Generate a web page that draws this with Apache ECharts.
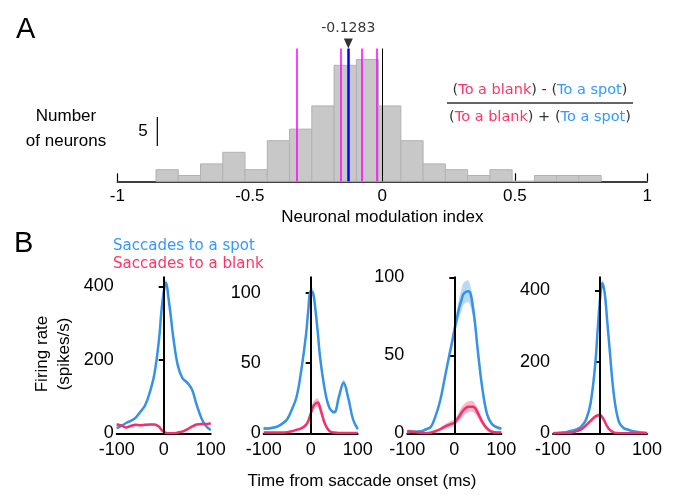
<!DOCTYPE html>
<html>
<head>
<meta charset="utf-8">
<script src="https://cdn.jsdelivr.net/npm/echarts@6/dist/echarts.min.js"></script>
<style>
  html, body { margin: 0; padding: 0; background: #fff; }
  #main { width: 674px; height: 495px; }
</style>
</head>
<body>
<div id="main"></div>
<script>
// ---- panel A: histogram of modulation index ----
var binEdges = [-0.854, -0.770, -0.686, -0.602, -0.518, -0.434, -0.350, -0.266, -0.182, -0.098,
                -0.014, 0.070, 0.154, 0.238, 0.322, 0.406, 0.490, 0.574, 0.658, 0.742, 0.826];
var binCounts = [2, 1, 3, 5, 2, 7, 9, 13, 20, 21, 13, 7, 3, 2, 1, 2, 0, 1, 1, 1];
var magentaLines = [-0.3245, -0.1585, -0.0777, -0.0211];
var medianValue = -0.1283;
var histTicks = [-1, -0.5, 0, 0.5, 1];

// ---- panel B: firing rate traces (spikes/s) ----
var times = [-100, -90, -80, -70, -60, -50, -40, -30, -20, -10, -5, 0, 5, 10, 15, 20, 30, 40, 50, 60, 70, 80, 90, 100];

var p1Spot     = [14, 20, 28, 34, 42, 58, 75, 110, 160, 255, 330, 385, 410, 370, 320, 265, 185, 150, 138, 120, 78, 42, 20, 9];
var p1SpotSem  = [3, 3, 3, 3, 3, 3, 3, 4, 4, 5, 6, 8, 10, 8, 6, 5, 4, 4, 4, 4, 3, 3, 3, 3];
var p1Blank    = [24, 21, 16, 20, 23, 22, 23, 24, 24, 18, 10, 4, 1, 0, 0, 0, 2, 5, 11, 18, 24, 25, 25, 27];
var p1BlankSem = [3, 3, 3, 3, 3, 3, 3, 3, 3, 3, 3, 2, 2, 2, 2, 2, 2, 2, 3, 3, 3, 3, 3, 3];

var p2Spot     = [3.5, 3.5, 4, 5, 7, 10, 17, 26, 45, 70, 88, 101, 100, 88, 72, 54, 31, 18, 15, 26, 36, 25, 10, 3];
var p2SpotSem  = [1, 1, 1, 1, 1, 1, 1, 1, 1.5, 2, 2, 3, 3, 2.5, 2, 1.5, 1, 1, 1, 1.5, 2.5, 2, 1, 1];
var p2Blank    = [0.5, 0.5, 0.5, 0.5, 0.5, 0.8, 1.5, 2.5, 3.5, 6, 9, 14, 19, 21, 22, 18, 7, 1.5, 0.5, 0.3, 0.3, 0.3, 0.3, 0.3];
var p2BlankSem = [0.5, 0.5, 0.5, 0.5, 0.5, 0.5, 0.5, 0.5, 1, 1.5, 2, 2.5, 3, 3, 3, 2.5, 1.5, 0.5, 0.5, 0.5, 0.5, 0.5, 0.5, 0.5];

var p3Spot     = [0.5, 1, 1, 1.3, 2.6, 4, 11, 21, 36, 51, 58, 66, 73, 80, 85, 89.5, 91, 80, 53, 28, 12, 6, 4, 3];
var p3SpotSem  = [1, 1, 1, 1, 1, 1, 1, 1.5, 2, 2.5, 3, 4, 5, 6, 7, 7, 7, 6, 4, 2.5, 1.5, 1, 1, 1];
var p3Blank    = [1.3, 1, 0.6, 0.2, 0, 0.4, 1.3, 2.6, 4.3, 5.6, 6.2, 6.8, 8.5, 10.7, 13, 15, 17, 17, 13, 7, 3, 1, 0.5, 0.5];
var p3BlankSem = [1, 1, 1, 1, 1, 1, 1, 1, 1.5, 2, 2, 2, 2.5, 3, 3.5, 3.5, 3.5, 3.5, 3, 2, 1.5, 1, 1, 1];

var p4Spot     = [0, 1, 2, 4, 7, 11, 19, 37, 84, 196, 290, 374, 420, 393, 320, 243, 103, 33, 15, 10, 6, 4, 2, 1];
var p4SpotSem  = [3, 3, 3, 3, 3, 3, 3, 4, 5, 6, 8, 10, 10, 8, 6, 5, 4, 3, 3, 3, 3, 3, 3, 3];
var p4Blank    = [0, 0, 0.5, 1, 2, 6, 11, 22, 35, 47, 50, 51, 45, 33, 20, 11, 2, 0.5, 0, 0, 0, 0, 0, 0];
var p4BlankSem = [2, 2, 2, 2, 2, 2, 2, 3, 3, 4, 5, 5, 5, 4, 3, 2, 2, 2, 2, 2, 2, 2, 2, 2];

var panels = [
  { spot: p1Spot, spotSem: p1SpotSem, blank: p1Blank, blankSem: p1BlankSem, yMax: 425, yStep: 200, left: 116.7 },
  { spot: p2Spot, spotSem: p2SpotSem, blank: p2Blank, blankSem: p2BlankSem, yMax: 111, yStep: 50, left: 263.7 },
  { spot: p3Spot, spotSem: p3SpotSem, blank: p3Blank, blankSem: p3BlankSem, yMax: 100, yStep: 50, left: 407.3 },
  { spot: p4Spot, spotSem: p4SpotSem, blank: p4Blank, blankSem: p4BlankSem, yMax: 437, yStep: 200, left: 553 }
];

var SPOT = '#3592e6', SPOT_BAND = 'rgba(53,146,230,0.35)';
var BLANK = '#f4306b', BLANK_BAND = 'rgba(244,48,107,0.35)';
var SANS = 'Liberation Sans';
var VERA = 'DejaVu Sans';

var chart = echarts.init(document.getElementById('main'));

var grids = [{ left: 117.3, width: 530, top: 36.3, height: 145 }];
var xAxes = [{
  gridIndex: 0, type: 'value', min: -1, max: 1, interval: 0.5,
  axisLine: { lineStyle: { color: '#000', width: 1.5 } },
  axisTick: { inside: true, length: 8, lineStyle: { color: '#000', width: 1.2 } },
  axisLabel: { color: '#000', fontSize: 17, fontFamily: SANS, margin: 7,
    formatter: function (v) { return histTicks.indexOf(v) >= 0 ? String(v) : ''; } },
  splitLine: { show: false },
  name: 'Neuronal modulation index', nameLocation: 'middle', nameGap: 28,
  nameTextStyle: { color: '#000', fontSize: 17, fontFamily: SANS }
}];
var yAxes = [{ gridIndex: 0, type: 'value', min: 0, max: 25, show: false }];

var histData = binCounts.map(function (c, i) { return [binEdges[i], binEdges[i + 1], c]; });
var lineTop = 22.9;
var vLines = magentaLines.map(function (x) {
  return [{ coord: [x, 0], lineStyle: { color: '#ff00ff', width: 1.5, type: 'solid' } }, { coord: [x, lineTop] }];
});
vLines.push([{ coord: [medianValue, 0], lineStyle: { color: '#0000ff', width: 2.5, type: 'solid' } }, { coord: [medianValue, lineTop] }]);
vLines.push([{ coord: [0, 0], lineStyle: { color: '#000', width: 1, type: 'solid' } }, { coord: [0, lineTop] }]);

var series = [
  {
    type: 'custom', xAxisIndex: 0, yAxisIndex: 0,
    data: histData,
    encode: { x: [0, 1], y: 2 },
    renderItem: function (params, api) {
      var a = api.coord([api.value(0), 0]);
      var b = api.coord([api.value(1), api.value(2)]);
      return {
        type: 'rect',
        shape: { x: a[0], y: b[1], width: b[0] - a[0], height: a[1] - b[1] },
        style: { fill: '#c8c8c8', stroke: '#b2b2b2', lineWidth: 1 }
      };
    },
    markLine: { silent: true, symbol: 'none', label: { show: false },
      lineStyle: { type: 'solid' }, data: vLines }
  },
  {
    // median marker
    type: 'scatter', xAxisIndex: 0, yAxisIndex: 0,
    data: [[medianValue, 23.75]],
    symbol: 'triangle', symbolRotate: 180, symbolSize: [9, 10],
    itemStyle: { color: '#000' },
    label: { show: true, position: 'top', distance: 3, formatter: String(medianValue),
      color: '#000', fontSize: 14, fontFamily: VERA }
  },
  {
    // 5-count scale bar
    type: 'line', xAxisIndex: 0, yAxisIndex: 0,
    data: [[-0.849, 6.1], [-0.849, 11.1]],
    symbol: 'none', lineStyle: { color: '#000', width: 1.2 }
  }
];

// SEM band drawn as one polygon through the axis scales
function bandSeries(gi, vals, sems, color) {
  return {
    type: 'custom', xAxisIndex: gi, yAxisIndex: gi, silent: true, z: 2,
    data: [[times[0], vals[0]]],
    renderItem: function (params, api) {
      var upper = times.map(function (t, k) { return api.coord([t, vals[k] + sems[k]]); });
      var lower = times.map(function (t, k) { return api.coord([t, Math.max(0, vals[k] - sems[k])]); }).reverse();
      return {
        type: 'polygon',
        shape: { points: upper.concat(lower), smooth: 0.3 },
        style: { fill: color }
      };
    }
  };
}

panels.forEach(function (p, i) {
  var gi = i + 1;
  grids.push({ left: p.left, width: 94, top: 277.3, height: 156 });
  xAxes.push({
    gridIndex: gi, type: 'value', min: -100, max: 100, interval: 100,
    axisLine: { onZero: false, lineStyle: { color: '#000', width: 2 } },
    axisTick: { show: false },
    axisLabel: { color: '#000', fontSize: 18, fontFamily: SANS, margin: 8 },
    splitLine: { show: false }
  });
  yAxes.push({
    gridIndex: gi, type: 'value', min: 0, max: p.yMax, interval: p.yStep,
    axisLine: { show: true, lineStyle: { color: '#000', width: 2 } },
    axisTick: { show: true, length: 5, lineStyle: { color: '#000', width: 2 } },
    axisLabel: { color: '#000', fontSize: 18, fontFamily: SANS, margin: 3 },
    splitLine: { show: false }
  });
  series.push(bandSeries(gi, p.spot, p.spotSem, SPOT_BAND));
  series.push({
    type: 'line', xAxisIndex: gi, yAxisIndex: gi,
    data: times.map(function (t, k) { return [t, p.spot[k]]; }),
    symbol: 'none', smooth: 0.4, lineStyle: { color: SPOT, width: 2.5 }, z: 3,
    markLine: { silent: true, symbol: 'none', label: { show: false },
      lineStyle: { color: '#000', width: 2, type: 'solid' }, data: [{ xAxis: 0 }] }
  });
  series.push(bandSeries(gi, p.blank, p.blankSem, BLANK_BAND));
  series.push({
    type: 'line', xAxisIndex: gi, yAxisIndex: gi,
    data: times.map(function (t, k) { return [t, p.blank[k]]; }),
    symbol: 'none', smooth: 0.4, lineStyle: { color: BLANK, width: 2.5 }, z: 4
  });
});

var fracRich = {
  k: { fontSize: 14.5, fontFamily: VERA, fill: '#333' },
  r: { fontSize: 14.5, fontFamily: VERA, fill: '#ff3366' },
  b: { fontSize: 14.5, fontFamily: VERA, fill: '#3399ff' }
};

var option = {
  animation: false,
  backgroundColor: '#fff',
  grid: grids,
  xAxis: xAxes,
  yAxis: yAxes,
  series: series,
  graphic: [
    { type: 'text', left: 16, top: 15, style: { text: 'A', fontSize: 29, fontFamily: SANS, fill: '#000' } },
    { type: 'text', left: 14, top: 229, style: { text: 'B', fontSize: 29, fontFamily: SANS, fill: '#000' } },
    { type: 'text', x: 66, y: 129, style: { text: 'Number\nof neurons', fontSize: 17, lineHeight: 25,
        fontFamily: SANS, fill: '#000', align: 'center', verticalAlign: 'middle' } },
    { type: 'text', x: 143, y: 131, style: { text: '5', fontSize: 17, fontFamily: SANS, fill: '#000',
        align: 'center', verticalAlign: 'middle' } },
    { type: 'text', x: 540, y: 90, style: {
        text: '{k|(}{r|To a blank}{k|) - (}{b|To a spot}{k|)}', align: 'center', verticalAlign: 'middle',
        rich: fracRich } },
    { type: 'line', shape: { x1: 447, y1: 103, x2: 633, y2: 103 }, style: { stroke: '#333', lineWidth: 1.5 } },
    { type: 'text', x: 540, y: 117, style: {
        text: '{k|(}{r|To a blank}{k|) + (}{b|To a spot}{k|)}', align: 'center', verticalAlign: 'middle',
        rich: fracRich } },
    { type: 'text', left: 113, top: 239, style: { text: 'Saccades to a spot', fontSize: 15, fontFamily: VERA, fill: '#3399ff' } },
    { type: 'text', left: 113, top: 257, style: { text: 'Saccades to a blank', fontSize: 15, fontFamily: VERA, fill: '#ff3366' } },
    { type: 'text', x: 53, y: 354, rotation: Math.PI / 2, style: { text: 'Firing rate\n(spikes/s)', fontSize: 17,
        lineHeight: 22, fontFamily: SANS, fill: '#000', align: 'center', verticalAlign: 'middle' } },
    { type: 'text', x: 362, y: 481, style: { text: 'Time from saccade onset (ms)', fontSize: 17,
        fontFamily: SANS, fill: '#000', align: 'center', verticalAlign: 'middle' } }
  ]
};
chart.setOption(option);
</script>
</body>
</html>
